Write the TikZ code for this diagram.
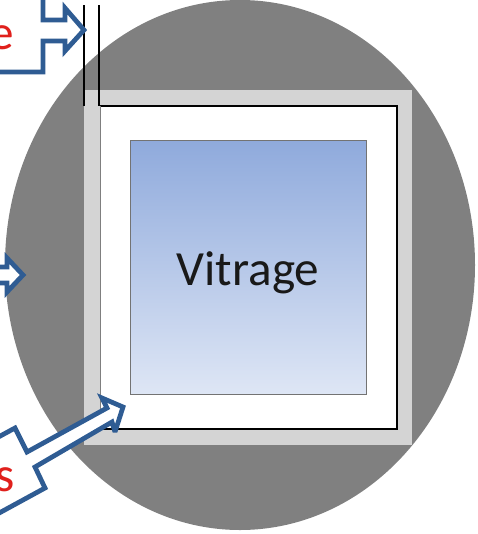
\documentclass[tikz,border=0pt]{standalone}
\usepackage{fontspec}
\setmainfont{Carlito}
\usepackage{xcolor}
\definecolor{disque}{HTML}{808080}
\definecolor{cadre}{HTML}{D4D4D4}
\definecolor{fleche}{HTML}{2F5C93}
\definecolor{rouge}{HTML}{E0201C}
\definecolor{bleuhaut}{HTML}{8FAADC}
\definecolor{bleubas}{HTML}{DEE6F5}

\begin{document}
\begin{tikzpicture}[x=0.02cm,y=-0.02cm,
			callout/.style={draw=fleche,fill=white,line width=2.7pt,line join=miter,miter limit=3},
			thinline/.style={black,line width=0.8pt},
			label/.style={font=\fontsize{28}{28}\selectfont,inner sep=0pt},
			]
			\clip (0,0) rectangle (477,534);
			
			% disque
			\fill[disque] (240,265) ellipse [x radius=235,y radius=265];
			
			% cadre
			\fill[cadre] (84,90) rectangle (412,445);
			\fill[white] (100,106) rectangle (397,429);
			\draw[thinline] (100,106)--(397,106)--(397,429)--(100,429);
			\draw[cadre!60!black,line width=0.4pt] (100,106)--(100,429);
			
			% vitrage
			\node[draw=black!55,line width=0.5pt,top color=bleuhaut,bottom color=bleubas,
			minimum width=236*0.02cm,minimum height=254*0.02cm,inner sep=0pt] (vitrage) at (248,267) {};
			\node[label,text=black!90] (nom) at (248,273) {Vitrage};
			
			% traits verticaux
			\draw[thinline] (84,5)--(84,106);
			\draw[thinline] (99,5)--(99,106);
			
			% fleche du haut
			\draw[callout] (-10,72)--(43,72)--(43,41)--(65,41)--(65,51)--(84,30)
			--(65,8)--(65,20)--(43,20)--(43,-10);
			\node[label,text=rouge,anchor=base east] (haut) at (14,50) {e};
			
			% fleche du milieu
			\draw[callout] (-10,267)--(7,267)--(7,258)--(23,275)--(7,292)--(7,283)--(-10,283);
			
			% fleche du bas
			\draw[callout] (-20,447)--(15,428)--(27,452)--(107,408)--(102,398)--(123,407)
			--(115,432)--(112,422)--(35,467)--(45,488)--(-10,518);
			\node[label,text=rouge,anchor=base east] (bas) at (15,491) {s};
		\end{tikzpicture}
\end{document}
